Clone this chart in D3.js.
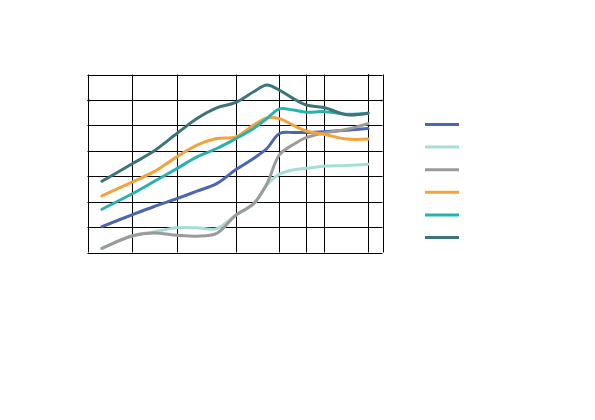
<!DOCTYPE html>
<html>
<head>
<meta charset="utf-8">
<script src="https://cdn.jsdelivr.net/npm/d3@7"></script>
<style>
  html, body { margin: 0; padding: 0; background: #fff; }
  svg { display: block; }
</style>
</head>
<body>
<svg id="chart" width="595" height="420"></svg>
<script>
// ---- data ----
const xs = [4.9, 15.3, 22.4, 30.3, 37.1, 43.8, 50.3, 56.3, 60.8, 65.1, 69.8, 74.1, 80.1, 87.9, 95.1];
const seriesNames = ["s1", "s2", "s3", "s4", "s5", "s6"];
const s1 = [1.02, 1.49, 1.80, 2.12, 2.41, 2.71, 3.26, 3.70, 4.09, 4.68, 4.72, 4.72, 4.75, 4.81, 4.88];
const s2 = [0.16, 0.66, 0.81, 0.97, 0.97, 0.94, 1.47, 1.90, 2.65, 3.08, 3.25, 3.31, 3.39, 3.42, 3.47];
const s3 = [0.16, 0.66, 0.77, 0.68, 0.64, 0.75, 1.47, 1.92, 2.70, 3.85, 4.25, 4.52, 4.70, 4.85, 5.07];
const s4 = [2.23, 2.78, 3.17, 3.76, 4.22, 4.48, 4.55, 5.01, 5.29, 5.26, 5.00, 4.78, 4.65, 4.46, 4.46];
const s5 = [1.70, 2.32, 2.78, 3.30, 3.76, 4.09, 4.48, 4.88, 5.27, 5.65, 5.60, 5.52, 5.54, 5.44, 5.48];
const s6 = [2.80, 3.50, 3.98, 4.68, 5.27, 5.69, 5.90, 6.32, 6.59, 6.38, 6.05, 5.80, 5.70, 5.42, 5.48];
const seriesValues = [s1, s2, s3, s4, s5, s6];
const colors = ["#4b65b0", "#a6ddd6", "#9b9b9b", "#f2a33a", "#27b2af", "#3d7479"];
const xGrid = [0, 15.25, 30.28, 50.28, 65.08, 74.12, 80.11, 95.14, 100];
const yGrid = [0, 1, 2, 3, 4, 5, 6, 7];

// ---- layout ----
const svg = d3.select("#chart");
const x = d3.scaleLinear().domain([0, 100]).range([87.5, 382.5]);
const y = d3.scaleLinear().domain([0, 7]).range([252.5, 74.5]);

const grid = svg.append("g");
grid.selectAll("line.h").data(yGrid).join("line")
  .attr("x1", x(0)).attr("x2", x(100))
  .attr("y1", d => Math.round(y(d)) + 0.5).attr("y2", d => Math.round(y(d)) + 0.5)
  .attr("stroke", "#000").attr("stroke-width", 1);
grid.selectAll("line.v").data(xGrid).join("line")
  .attr("y1", y(0)).attr("y2", y(7))
  .attr("x1", d => Math.round(x(d)) + 0.5).attr("x2", d => Math.round(x(d)) + 0.5)
  .attr("stroke", "#000").attr("stroke-width", 1);

// small tick marks
grid.append("line").attr("x1", x(0)).attr("x2", x(0) + 3)
  .attr("y1", Math.round(y(6)) + 0.5).attr("y2", Math.round(y(6)) + 0.5)
  .attr("stroke", "#000").attr("stroke-width", 1.5);
grid.append("line").attr("x1", x(100) - 2).attr("x2", x(100))
  .attr("y1", Math.round(y(6)) + 0.5).attr("y2", Math.round(y(6)) + 0.5)
  .attr("stroke", "#000").attr("stroke-width", 1.5);
grid.append("line").attr("x1", Math.round(x(95.14)) + 0.5).attr("x2", Math.round(x(95.14)) + 0.5)
  .attr("y1", y(7)).attr("y2", y(7) + 2)
  .attr("stroke", "#000").attr("stroke-width", 1.5);

// lines
const line = d3.line()
  .x((d, i) => x(xs[i]))
  .y(d => y(d))
  .curve(d3.curveCatmullRom.alpha(0.5));

svg.append("g").selectAll("path").data(seriesValues).join("path")
  .attr("d", d => line(d))
  .attr("fill", "none")
  .attr("stroke", (d, i) => colors[i])
  .attr("stroke-width", 3)
  .attr("stroke-linecap", "round")
  .attr("stroke-linejoin", "round");

// legend
const ly = d3.scalePoint().domain(seriesNames).range([124.5, 237.5]);
svg.append("g").selectAll("line").data(seriesNames).join("line")
  .attr("x1", 425).attr("x2", 459)
  .attr("y1", d => ly(d)).attr("y2", d => ly(d))
  .attr("stroke", (d, i) => colors[i])
  .attr("stroke-width", 3);
</script>
</body>
</html>
